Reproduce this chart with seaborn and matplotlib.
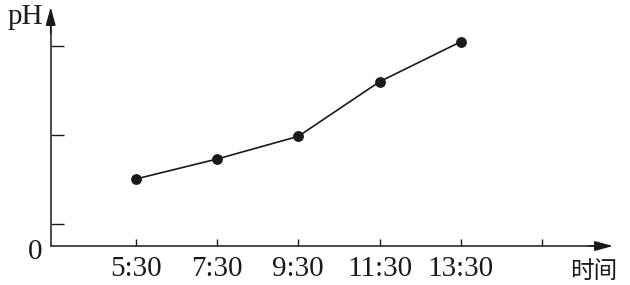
import numpy as np
import pandas as pd
import matplotlib
matplotlib.use("Agg")
import matplotlib.pyplot as plt
import seaborn as sns

# ---- data ----
times = ["5:30", "7:30", "9:30", "11:30", "13:30"]
ph_values = [0.75, 0.974, 1.228, 1.84, 2.288]
x_tick_labels = ["5:30", "7:30", "9:30", "11:30", "13:30", ""]
y_tick_values = [0.243, 1.243, 2.243]
y_label = "pH"
x_label = "时间"
origin_label = "0"

# ---- styling / layout ----
sns.set_style("white")
plt.rcParams["font.family"] = ["Liberation Serif", "Noto Sans CJK SC", "DejaVu Sans"]

INK = "#1a1a1a"
XLIM = (-1.669, 6.080)
YLIM = (-0.4367, 2.7548)
YAXIS_X = -1.0455
XAXIS_TIP = 5.871
YAXIS_TIP = 2.676

fig = plt.figure(figsize=(6.3, 2.85), dpi=100)
ax = fig.add_axes([0, 0, 1, 1])

df = pd.DataFrame({"pos": np.arange(len(times)), "ph": ph_values})
sns.lineplot(data=df, x="pos", y="ph", marker="o", color=INK,
             markersize=7.8, markeredgewidth=0, linewidth=1.2, ax=ax)

ax.set_xlim(*XLIM)
ax.set_ylim(*YLIM)
ax.set_xlabel("")
ax.set_ylabel("")

for s in ("top", "right"):
    ax.spines[s].set_visible(False)
ax.spines["left"].set_position(("data", YAXIS_X))
ax.spines["bottom"].set_position(("data", 0))
ax.spines["left"].set_bounds(0, YAXIS_TIP - 0.1)
ax.spines["bottom"].set_bounds(YAXIS_X, XAXIS_TIP - 0.1)
for s in ("left", "bottom"):
    ax.spines[s].set_color(INK)
    ax.spines[s].set_linewidth(1.1)

ax.set_xticks(np.arange(len(x_tick_labels)))
ax.set_xticklabels(x_tick_labels, fontsize=21)
ax.set_yticks(y_tick_values)
ax.set_yticklabels([""] * len(y_tick_values))
ax.tick_params(axis="x", bottom=True, direction="in", length=5, width=1.0,
               color=INK, pad=7.5, labelcolor=INK)
ax.tick_params(axis="y", left=True, direction="in", length=9.4, width=1.0,
               color=INK)

arrow = dict(arrowstyle="-|>,head_length=1.1,head_width=0.3", color=INK,
             lw=1.1, shrinkA=0, shrinkB=0, mutation_scale=10)
ax.annotate("", xy=(XAXIS_TIP, 0), xytext=(XAXIS_TIP - 0.3, 0), arrowprops=arrow)
ax.annotate("", xy=(YAXIS_X, YAXIS_TIP), xytext=(YAXIS_X, YAXIS_TIP - 0.3), arrowprops=arrow)

ax.text(-1.140, 2.49, y_label, ha="right", va="baseline", fontsize=21, color=INK)
ax.text(-1.150, -0.146, origin_label, ha="right", va="baseline", fontsize=21, color=INK)
ax.text(5.342, -0.29, x_label, ha="left", va="center", fontsize=17, color=INK,
        family=["Noto Sans CJK SC", "DejaVu Sans"])

fig.savefig("out.png", dpi=100)
